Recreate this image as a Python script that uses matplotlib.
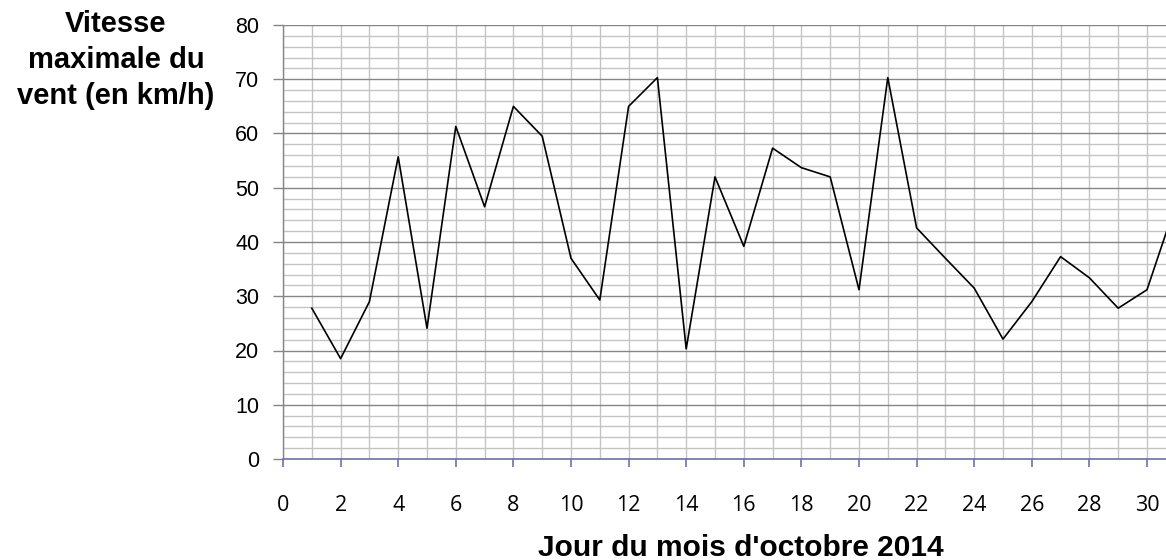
import matplotlib
matplotlib.use("Agg")
import matplotlib.pyplot as plt
from matplotlib.ticker import MultipleLocator

# daily maximum wind speed, October 2014
days = list(range(1, 32))
wind_kmh = [27.8, 18.5, 29.0, 55.7, 24.1, 61.3, 46.5, 65.0, 59.5, 37.0,
            29.3, 65.0, 70.3, 20.3, 52.0, 39.2, 57.3, 53.7, 52.0, 31.2,
            70.3, 42.6, 37.0, 31.5, 22.1, 29.0, 37.3, 33.4, 27.8, 31.2,
            47.0]

x_ticks = list(range(0, 31, 2))
y_ticks = list(range(0, 81, 10))

ylabel_text = "Vitesse\nmaximale du\nvent (en km/h)"
xlabel_text = "Jour du mois d'octobre 2014"

W, H = 1166, 560
fig = plt.figure(figsize=(W / 100, H / 100), dpi=100)
ax = fig.add_axes([283 / W, (H - 459) / H, 1 - 283 / W, (459 - 25) / H])

ax.plot(days, wind_kmh, color="black", linewidth=1.2, zorder=3)

ax.set_xlim(0, 30.66)
ax.set_ylim(0, 80)
ax.set_xticks(x_ticks)
ax.set_yticks(y_ticks)
ax.xaxis.set_minor_locator(MultipleLocator(1))
ax.yaxis.set_minor_locator(MultipleLocator(2))

ax.set_axisbelow(True)
ax.grid(which="minor", color="#c4c4c4", linewidth=1.0)
ax.xaxis.grid(which="major", color="#c4c4c4", linewidth=1.0)
ax.yaxis.grid(which="major", color="#858585", linewidth=1.0)

for side in ("top", "right"):
    ax.spines[side].set_visible(False)
ax.spines["left"].set_color("#858585")
ax.spines["left"].set_linewidth(1.0)
ax.spines["bottom"].set_color("#6f6fae")
ax.spines["bottom"].set_linewidth(1.2)

ax.tick_params(axis="x", which="major", direction="out", length=6,
               width=1.2, color="#6f6fae", pad=20, labelsize=15.5)
ax.tick_params(axis="y", which="major", direction="out", length=7,
               width=1.0, color="#858585", pad=10, labelsize=15.5)
ax.tick_params(which="minor", length=0)

for lbl in ax.get_xticklabels():
    lbl.set_family("Open Sans")
for lbl in ax.get_yticklabels():
    lbl.set_family("Liberation Sans")

fig.text(116 / W, 1 - 60 / H, ylabel_text, ha="center", va="center",
         fontsize=21, fontweight="bold", family="Liberation Sans",
         linespacing=1.35)
fig.text(741 / W, 1 - 548 / H, xlabel_text, ha="center", va="center",
         fontsize=21.5, fontweight="bold", family="Liberation Sans")

fig.savefig("out.png", dpi=100)
